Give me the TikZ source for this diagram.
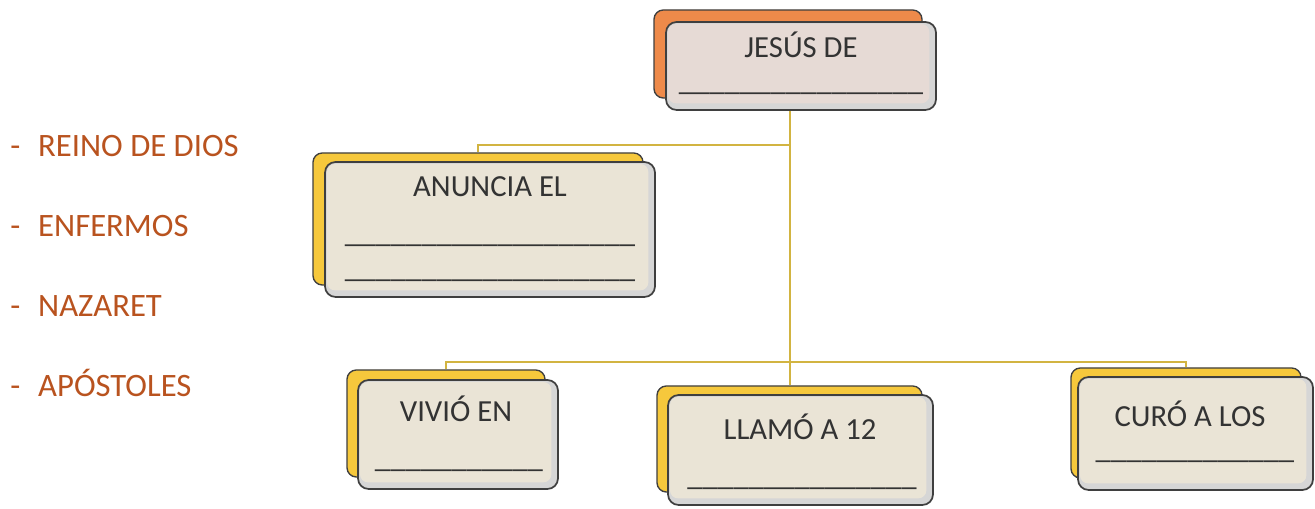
\documentclass[tikz,border=0pt]{standalone}
\usepackage{fontspec}
\setmainfont{Carlito}
\definecolor{linecol}{HTML}{D2B441}
\definecolor{edgecol}{HTML}{3F3F3F}
\definecolor{shadecol}{HTML}{D6D6D6}
\definecolor{beigecol}{HTML}{EAE4D6}
\definecolor{pinkcol}{HTML}{E6DAD5}
\definecolor{yellowcol}{HTML}{F6C83C}
\definecolor{orangecol}{HTML}{EE8A4A}
\definecolor{txtcol}{HTML}{333333}
\definecolor{listcol}{HTML}{B9531F}
\begin{document}
\begin{tikzpicture}[x=0.75pt,y=-0.75pt,
  conn/.style={draw=linecol, line width=2pt},
  backbox/.style={draw=edgecol, line width=1pt, rounded corners=7pt, inner sep=0, fill=#1},
  frontbox/.style={draw=edgecol, line width=1.3pt, rounded corners=8pt, fill=shadecol, inner sep=0,
    path picture={\fill[#1, rounded corners=6pt] ([shift={(1.5pt,-1.5pt)}]path picture bounding box.north west) rectangle ([shift={(-5pt,5pt)}]path picture bounding box.south east);}},
  title/.style={font=\fontsize{23}{26}\selectfont, text=txtcol, anchor=base, inner sep=0},
  listitem/.style={font=\fontsize{24.5}{28}\selectfont, text=listcol, anchor=base west, inner sep=0}]
\useasboundingbox[fill=white] (0,0) rectangle (1315,509);

% left list
\node[listitem] (l1) at (10,157) {\makebox[21pt][l]{-}REINO DE DIOS};
\node[listitem] (l2) at (10,237) {\makebox[21pt][l]{-}ENFERMOS};
\node[listitem] (l3) at (10,317) {\makebox[21pt][l]{-}NAZARET};
\node[listitem] (l4) at (10,397) {\makebox[21pt][l]{-}APÓSTOLES};

% coordinates of the tree
\coordinate (j1) at (790,145);
\coordinate (j2) at (790,362);
\path (788,54) coordinate (jbc) (478,219) coordinate (abc) (446,423.5) coordinate (vbc)
      (789.5,439) coordinate (lbc) (1186,423) coordinate (cbc);

% back boxes
\node[backbox=orangecol, minimum width=201pt, minimum height=66pt] (jb) at (jbc) {};
\node[backbox=yellowcol, minimum width=247.5pt, minimum height=99pt] (ab) at (abc) {};
\node[backbox=yellowcol, minimum width=148.5pt, minimum height=80.25pt] (vb) at (vbc) {};
\node[backbox=yellowcol, minimum width=198.75pt, minimum height=79.5pt] (lb) at (lbc) {};
\node[backbox=yellowcol, minimum width=172.5pt, minimum height=82.5pt] (cb) at (cbc) {};

% front boxes
\node[frontbox=pinkcol, minimum width=202.5pt, minimum height=66pt] (jf) at (801,66) {};
\node[frontbox=beigecol, minimum width=247.5pt, minimum height=101.25pt] (af) at (490,229.5) {};
\node[frontbox=beigecol, minimum width=150pt, minimum height=81.75pt] (vf) at (458,434.5) {};
\node[frontbox=beigecol, minimum width=198.75pt, minimum height=82.5pt] (lf) at (800.5,450) {};
\node[frontbox=beigecol, minimum width=176.25pt, minimum height=84.75pt] (cf) at (1195.5,433.5) {};

% connectors
\draw[conn] (j1 |- jf.south) -- (j2);
\draw[conn] (j1) -| (ab.north);
\draw[conn] (j2) -| (vb.north);
\draw[conn] (j2) -- (j2 |- lb.north);
\draw[conn] (j2) -| (cb.north);

% texts
\node[title] (jt) at (801,58) {JESÚS DE};
\node[title] (ju) at (801,91) {\_\_\_\_\_\_\_\_\_\_\_\_\_\_\_\_};
\node[title] (at) at (490,197) {ANUNCIA EL};
\node[title] (au1) at (490,243) {\_\_\_\_\_\_\_\_\_\_\_\_\_\_\_\_\_\_\_};
\node[title] (au2) at (490,278) {\_\_\_\_\_\_\_\_\_\_\_\_\_\_\_\_\_\_\_};
\node[title] (vt) at (456,422) {VIVIÓ EN};
\node[title] (vu) at (459,468) {\_\_\_\_\_\_\_\_\_\_\_};
\node[title] (lt) at (800,440) {LLAMÓ A 12};
\node[title] (lu) at (802,486) {\_\_\_\_\_\_\_\_\_\_\_\_\_\_\_};
\node[title] (ct) at (1190,427) {CURÓ A LOS};
\node[title] (cu) at (1195,459) {\_\_\_\_\_\_\_\_\_\_\_\_\_};
\end{tikzpicture}
\end{document}
